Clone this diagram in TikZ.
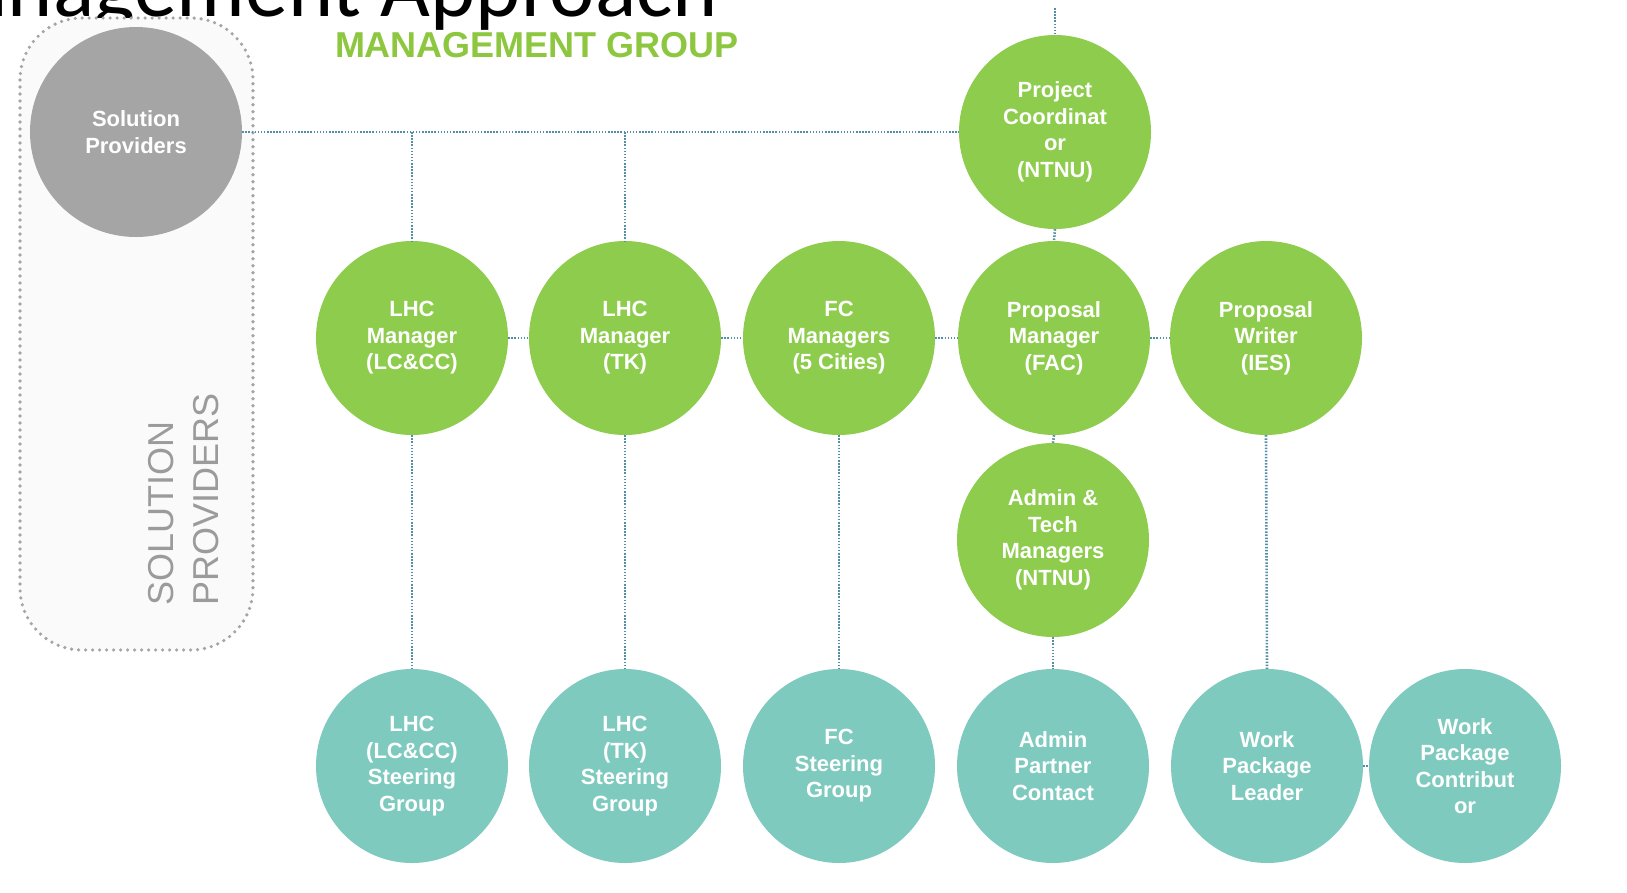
\documentclass[tikz,border=0pt]{standalone}
\usepackage{fontspec}
\setmainfont{Liberation Sans}
\newfontfamily\titlefont{Carlito}
\usetikzlibrary{shapes.geometric}
\definecolor{mgreen}{RGB}{141,204,76}
\definecolor{mteal}{RGB}{126,202,190}
\definecolor{mgrey}{RGB}{165,165,165}
\definecolor{mline}{RGB}{84,142,165}
\definecolor{mtitle}{RGB}{141,198,63}
\definecolor{mlabel}{RGB}{155,155,155}
\begin{document}
\begin{tikzpicture}[x=1pt,y=-1pt,
  bubble/.style={ellipse, inner sep=0pt, minimum width=192pt, minimum height=194pt,
    text=white, align=center, font=\fontsize{22}{26.5}\selectfont\bfseries},
  gbub/.style={bubble, fill=mgreen},
  tbub/.style={bubble, fill=mteal},
  link/.style={draw=mline, line width=2.6pt, dash pattern=on 1.5pt off 1.6pt},
  container/.style={draw=mgrey, fill=gray!4, line width=3.6pt, line cap=round,
    dash pattern=on 0pt off 7pt, rounded corners=62pt},
]
\useasboundingbox (0,0) rectangle (1627,892);
% title (cut off at the top)
\node[anchor=base east, inner sep=0pt, font=\titlefont\fontsize{86}{86}\selectfont] (title) at (718,16) {Management Approach};
\node[inner sep=0pt, text=mtitle, font=\fontsize{36}{36}\selectfont\bfseries] (mg) at (537,45) {MANAGEMENT GROUP};
% solution providers container
\draw[container] (20,18) rectangle (253,650);
\node[rotate=90, anchor=north west, align=left, inner sep=0pt, text=mlabel,
  font=\fontsize{36}{45}\selectfont] (splabel) at (148,606) {SOLUTION\\PROVIDERS};
\node[bubble, fill=mgrey, minimum width=212pt, minimum height=210pt] (sp) at (136,132) {Solution\\Providers};
% top row
\node[gbub] (pc) at (1055,132) {Project\\Coordinat\\or\\(NTNU)};
% middle row
\node[gbub] (m1) at (412,338) {LHC\\Manager\\(LC\&CC)};
\node[gbub] (m2) at (625,338) {LHC\\Manager\\(TK)};
\node[gbub] (m3) at (839,338) {FC\\Managers\\(5 Cities)};
\node[gbub] (pm) at (1054,338) {Proposal\\Manager\\(FAC)};
\node[gbub] (pw) at (1266,338) {Proposal\\Writer\\(IES)};
\node[gbub] (at) at (1053,540) {Admin \&\\Tech\\Managers\\(NTNU)};
% bottom row
\node[tbub] (s1) at (412,766) {LHC\\(LC\&CC)\\Steering\\Group};
\node[tbub] (s2) at (625,766) {LHC\\(TK)\\Steering\\Group};
\node[tbub] (s3) at (839,766) {FC\\Steering\\Group};
\node[tbub] (apc) at (1053,766) {Admin\\Partner\\Contact};
\node[tbub] (wpl) at (1267,766) {Work\\Package\\Leader};
\node[tbub] (wpc) at (1465,766) {Work\\Package\\Contribut\\or};
% connectors
\coordinate (top) at (1055,8);
\draw[link] (top) -- (pc.north);
\draw[link] (sp.east) -- (pc.west);
\draw[link] (m1.north |- sp.east) -- (m1.north);
\draw[link] (m2.north |- sp.east) -- (m2.north);
\draw[link] (pc.south) -- (pm.north);
\draw[link] (m1.east) -- (m2.west);
\draw[link] (m2.east) -- (m3.west);
\draw[link] (m3.east) -- (pm.west);
\draw[link] (pm.east) -- (pw.west);
\draw[link] (pm.south) -- (at.north);
\draw[link] (at.south) -- (apc.north);
\draw[link] (m1.south) -- (s1.north);
\draw[link] (m2.south) -- (s2.north);
\draw[link] (m3.south) -- (s3.north);
\draw[link] (pw.south) -- (wpl.north);
\draw[link] (wpl.east) -- (wpc.west);
\end{tikzpicture}
\end{document}
